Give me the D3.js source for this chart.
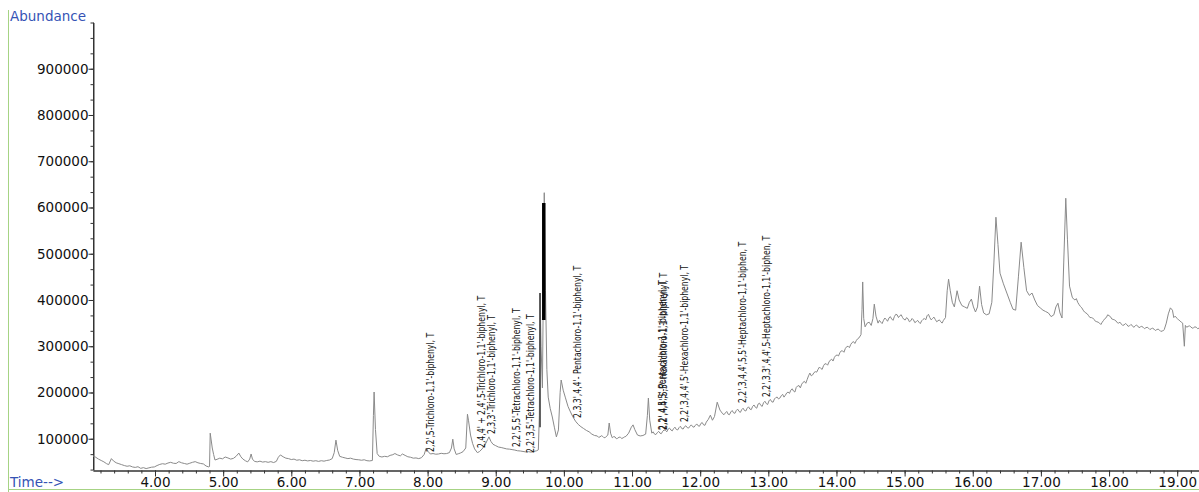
<!DOCTYPE html>
<html>
<head>
<meta charset="utf-8">
<script src="https://cdn.jsdelivr.net/npm/d3@7"></script>
<style>
  html, body { margin: 0; padding: 0; background: #fff; }
  svg { display: block; }
</style>
</head>
<body>
<svg id="chart" width="1199" height="492"></svg>
<script>
// Total ion chromatogram: [retention time (min), abundance]
const ticTrace = [
  [3.09, 63000], [3.13, 60000], [3.17, 56000], [3.21, 53000], [3.25, 50000], [3.29, 46000],
  [3.32, 44000], [3.36, 57000], [3.39, 52000], [3.43, 48000], [3.47, 46000], [3.51, 44000],
  [3.55, 42000], [3.59, 40500], [3.63, 41500], [3.67, 39000], [3.71, 38000], [3.75, 39500],
  [3.79, 36000], [3.83, 37500], [3.87, 35500], [3.91, 37000], [3.95, 38500], [3.99, 39000],
  [4.03, 42000], [4.07, 44500], [4.11, 46000], [4.15, 45000], [4.19, 47500], [4.23, 49000],
  [4.27, 47000], [4.31, 46500], [4.35, 50500], [4.39, 48000], [4.43, 46500], [4.47, 45000],
  [4.51, 47000], [4.55, 49000], [4.59, 50500], [4.63, 48000], [4.67, 46500], [4.71, 45500],
  [4.75, 41000], [4.79, 39000], [4.80, 40000], [4.81, 112000], [4.84, 80000], [4.86, 66000],
  [4.88, 54000], [4.91, 55500], [4.95, 58000], [4.99, 56500], [5.03, 60500], [5.07, 58500],
  [5.11, 56000], [5.15, 57500], [5.19, 62000], [5.23, 69000], [5.26, 61000], [5.29, 56000],
  [5.33, 52000], [5.36, 50000], [5.39, 56000], [5.41, 67000], [5.43, 56000], [5.46, 51000],
  [5.50, 50000], [5.54, 51500], [5.58, 49500], [5.62, 50500], [5.66, 49000], [5.70, 50500],
  [5.74, 48500], [5.78, 51000], [5.81, 60000], [5.84, 65000], [5.88, 61000], [5.92, 58000],
  [5.96, 57000], [6.00, 55000], [6.04, 56000], [6.08, 53500], [6.12, 54500], [6.16, 52500],
  [6.20, 53500], [6.24, 52000], [6.28, 53000], [6.32, 51500], [6.36, 52500], [6.40, 51000],
  [6.44, 52500], [6.48, 51500], [6.52, 53000], [6.56, 54000], [6.60, 57000], [6.63, 70000],
  [6.655, 97000], [6.68, 75000], [6.71, 62000], [6.75, 60000], [6.79, 58500], [6.83, 57000],
  [6.87, 58000], [6.91, 56000], [6.95, 55000], [6.99, 54500], [7.03, 53500], [7.07, 54500],
  [7.11, 52500], [7.15, 52000], [7.19, 53000], [7.205, 150000], [7.215, 201000], [7.235, 120000],
  [7.26, 68000], [7.29, 62000], [7.33, 60500], [7.37, 62000], [7.41, 61000], [7.45, 64000],
  [7.49, 65500], [7.52, 68000], [7.56, 65000], [7.60, 63000], [7.63, 67000], [7.67, 64000],
  [7.71, 61000], [7.75, 60000], [7.79, 58000], [7.83, 58500], [7.87, 57000], [7.91, 59000],
  [7.95, 66000], [7.98, 80000], [8.01, 72000], [8.04, 67000], [8.08, 68000], [8.12, 66500],
  [8.16, 67000], [8.20, 68500], [8.24, 67500], [8.28, 68000], [8.32, 70000], [8.35, 80000],
  [8.37, 99000], [8.39, 78000], [8.42, 66000], [8.45, 67500], [8.48, 69000], [8.52, 72000],
  [8.56, 80000], [8.585, 153000], [8.60, 140000], [8.63, 108000], [8.66, 90000], [8.69, 78000],
  [8.73, 70000], [8.76, 72000], [8.80, 78000], [8.84, 86000], [8.87, 95000], [8.90, 104000],
  [8.93, 94000], [8.96, 88000], [9.00, 85000], [9.04, 82000], [9.08, 81000], [9.12, 79500],
  [9.16, 78000], [9.20, 77500], [9.24, 76500], [9.28, 75500], [9.32, 74000], [9.36, 73500],
  [9.40, 72500], [9.44, 71500], [9.48, 72000], [9.52, 71000], [9.56, 72500], [9.60, 74000],
  [9.625, 76000], [9.64, 150000], [9.65, 415000], [9.665, 300000], [9.685, 210000], [9.70, 450000],
  [9.712, 632000], [9.73, 420000], [9.75, 250000], [9.77, 190000], [9.80, 165000], [9.83, 147000],
  [9.86, 125000], [9.89, 104000], [9.92, 119000], [9.945, 200000], [9.96, 227000], [9.99, 205000],
  [10.02, 190000], [10.06, 170000], [10.09, 160000], [10.13, 148000], [10.17, 138000], [10.21, 131000],
  [10.25, 126000], [10.29, 122000], [10.33, 118000], [10.37, 115000], [10.41, 110000], [10.45, 107000],
  [10.49, 106000], [10.51, 103000], [10.53, 104000], [10.55, 106500], [10.57, 105000], [10.59, 102000],
  [10.61, 103000], [10.645, 108000], [10.665, 134000], [10.685, 112000], [10.71, 102000], [10.73, 104500],
  [10.75, 104000], [10.77, 100000], [10.79, 101000], [10.81, 103500], [10.83, 103000], [10.85, 100500],
  [10.87, 102000], [10.89, 104000], [10.91, 105000], [10.95, 112000], [10.99, 125000], [11.015, 130000],
  [11.04, 120000], [11.08, 108000], [11.12, 106000], [11.16, 107000], [11.20, 110000], [11.225, 150000],
  [11.24, 188000], [11.26, 140000], [11.29, 112000], [11.31, 115000], [11.33, 110000], [11.35, 109000],
  [11.37, 113000], [11.39, 116000], [11.41, 112000], [11.43, 111000], [11.45, 116000], [11.47, 119000],
  [11.49, 118000], [11.51, 115000], [11.53, 121000], [11.55, 123000], [11.57, 119000], [11.59, 117000],
  [11.61, 122000], [11.63, 125000], [11.65, 120000], [11.67, 119000], [11.69, 124000], [11.71, 127000],
  [11.73, 122000], [11.75, 121000], [11.77, 126000], [11.79, 128000], [11.81, 124000], [11.83, 123000],
  [11.85, 127000], [11.87, 130000], [11.89, 126000], [11.91, 125000], [11.93, 129000], [11.95, 132000],
  [11.97, 128000], [11.99, 127000], [12.01, 133000], [12.03, 135000], [12.05, 130000], [12.07, 129000],
  [12.09, 136000], [12.12, 142000], [12.15, 151000], [12.18, 140000], [12.21, 148000], [12.25, 179000],
  [12.29, 162000], [12.31, 158000], [12.33, 154000], [12.35, 152000], [12.37, 156000], [12.39, 159000],
  [12.41, 153000], [12.43, 152000], [12.45, 158000], [12.47, 161000], [12.49, 156000], [12.51, 155000],
  [12.53, 161000], [12.55, 164000], [12.57, 159000], [12.59, 157000], [12.61, 163000], [12.63, 166000],
  [12.65, 161000], [12.67, 160000], [12.69, 166000], [12.71, 169000], [12.73, 164000], [12.75, 163000],
  [12.77, 170000], [12.79, 173000], [12.81, 168000], [12.83, 166000], [12.85, 175000], [12.87, 177000],
  [12.89, 172000], [12.91, 170000], [12.93, 178000], [12.95, 181000], [12.97, 176000], [12.99, 174000],
  [13.01, 182000], [13.03, 185000], [13.05, 180000], [13.07, 179000], [13.09, 186000], [13.11, 189000],
  [13.13, 190000], [13.15, 186000], [13.17, 188000], [13.19, 193000], [13.21, 196000], [13.23, 190000],
  [13.25, 194000], [13.27, 199000], [13.29, 201000], [13.31, 198000], [13.33, 205000], [13.35, 208000],
  [13.37, 203000], [13.39, 201000], [13.41, 211000], [13.43, 214000], [13.45, 215000], [13.47, 210000],
  [13.49, 218000], [13.51, 222000], [13.53, 224000], [13.55, 220000], [13.57, 228000], [13.59, 236000],
  [13.61, 242000], [13.63, 236000], [13.65, 238000], [13.67, 243000], [13.69, 245000], [13.71, 244000],
  [13.73, 250000], [13.75, 255000], [13.77, 252000], [13.79, 250000], [13.81, 258000], [13.83, 262000],
  [13.85, 262000], [13.87, 259000], [13.89, 266000], [13.91, 270000], [13.93, 272000], [13.95, 268000],
  [13.97, 276000], [13.99, 280000], [14.01, 281000], [14.03, 279000], [14.05, 286000], [14.07, 290000],
  [14.09, 290000], [14.11, 287000], [14.13, 295000], [14.15, 299000], [14.17, 300000], [14.19, 297000],
  [14.21, 304000], [14.23, 308000], [14.25, 310000], [14.27, 306000], [14.29, 312000], [14.31, 316000],
  [14.33, 318000], [14.36, 325000], [14.375, 380000], [14.385, 439000], [14.40, 360000], [14.42, 342000],
  [14.45, 350000], [14.48, 352000], [14.51, 345000], [14.535, 360000], [14.555, 391000], [14.58, 365000],
  [14.61, 350000], [14.63, 356000], [14.65, 352000], [14.67, 349000], [14.69, 356000], [14.71, 361000],
  [14.73, 358000], [14.75, 354000], [14.77, 361000], [14.79, 364000], [14.81, 359000], [14.83, 356000],
  [14.85, 364000], [14.87, 369000], [14.89, 368000], [14.91, 362000], [14.93, 366000], [14.95, 368000],
  [14.97, 362000], [14.99, 358000], [15.01, 357000], [15.03, 362000], [15.05, 359000], [15.07, 353000],
  [15.09, 355000], [15.11, 360000], [15.13, 357000], [15.15, 351000], [15.17, 353000], [15.19, 356000],
  [15.21, 352000], [15.23, 349000], [15.25, 355000], [15.27, 358000], [15.29, 360000], [15.31, 357000],
  [15.33, 366000], [15.35, 369000], [15.37, 362000], [15.39, 357000], [15.41, 360000], [15.43, 363000],
  [15.45, 358000], [15.47, 353000], [15.49, 355000], [15.51, 357000], [15.53, 353000], [15.55, 350000],
  [15.57, 356000], [15.60, 362000], [15.625, 420000], [15.645, 445000], [15.67, 420000], [15.70, 395000],
  [15.73, 385000], [15.77, 420000], [15.80, 400000], [15.84, 388000], [15.88, 385000], [15.92, 382000],
  [15.95, 395000], [15.98, 402000], [16.01, 385000], [16.04, 374000], [16.07, 385000], [16.10, 430000],
  [16.13, 390000], [16.16, 372000], [16.20, 368000], [16.24, 370000], [16.28, 395000], [16.31, 480000],
  [16.34, 579000], [16.37, 520000], [16.40, 458000], [16.45, 435000], [16.50, 415000], [16.55, 395000],
  [16.59, 380000], [16.63, 378000], [16.67, 450000], [16.71, 525000], [16.75, 470000], [16.79, 420000],
  [16.83, 410000], [16.87, 415000], [16.91, 400000], [16.95, 388000], [16.99, 383000], [17.03, 378000],
  [17.07, 375000], [17.11, 372000], [17.15, 364000], [17.19, 368000], [17.22, 385000], [17.25, 393000],
  [17.28, 372000], [17.31, 361000], [17.335, 480000], [17.365, 620000], [17.39, 530000], [17.42, 430000],
  [17.46, 406000], [17.48, 402000], [17.50, 400000], [17.52, 403000], [17.54, 395000], [17.56, 390000],
  [17.58, 386000], [17.60, 383000], [17.62, 378000], [17.64, 374000], [17.66, 372000], [17.68, 370000],
  [17.70, 366000], [17.72, 362000], [17.74, 362000], [17.76, 361000], [17.78, 358000], [17.80, 354000],
  [17.82, 353000], [17.84, 352000], [17.86, 350000], [17.88, 347000], [17.90, 352000], [17.92, 356000],
  [17.94, 360000], [17.96, 362000], [17.98, 368000], [18.00, 366000], [18.02, 364000], [18.04, 359000],
  [18.06, 358000], [18.08, 357000], [18.10, 355000], [18.12, 351000], [18.14, 350000], [18.16, 352000],
  [18.18, 348000], [18.20, 345000], [18.22, 346000], [18.24, 349000], [18.26, 347000], [18.28, 343000],
  [18.30, 344000], [18.32, 347000], [18.34, 345000], [18.36, 341000], [18.38, 343000], [18.40, 346000],
  [18.42, 344000], [18.44, 340000], [18.46, 342000], [18.48, 343000], [18.50, 341000], [18.52, 338000],
  [18.54, 340000], [18.56, 341000], [18.58, 339000], [18.60, 336000], [18.62, 338000], [18.64, 339000],
  [18.66, 337000], [18.68, 334000], [18.70, 336000], [18.72, 337000], [18.74, 335000], [18.76, 332000],
  [18.78, 333000], [18.80, 334000], [18.81, 336000], [18.84, 350000], [18.87, 370000], [18.90, 383000],
  [18.93, 378000], [18.95, 362000], [18.97, 365000], [19.00, 360000], [19.02, 357000], [19.04, 355000],
  [19.06, 352000], [19.08, 350000], [19.105, 300000], [19.12, 345000], [19.14, 341000], [19.16, 343000],
  [19.18, 344000], [19.20, 342000], [19.22, 339000], [19.24, 340000], [19.26, 342000], [19.28, 341000],
  [19.30, 338000], [19.32, 339000]
];

// Compound identifications: label start (time, abundance) and name
const peakLabels = [
  { t: 8.095, v: 71400,  name: "2,2',5-Trichloro-1,1'-biphenyl, T" },
  { t: 8.84,  v: 80000,  name: "2,4,4' + 2,4',5-Trichloro-1,1'-biphenyl, T" },
  { t: 8.99,  v: 110000, name: "2,3,3'-Trichloro-1,1'-biphenyl, T" },
  { t: 9.36,  v: 82000,  name: "2,2',5,5'-Tetrachloro-1,1'-biphenyl, T" },
  { t: 9.56,  v: 69000,  name: "2,2',3,5'-Tetrachloro-1,1'-biphenyl, T" },
  { t: 10.25, v: 145000, name: "2,3,3',4,4'- Pentachloro-1,1'-biphenyl, T" },
  { t: 11.50, v: 119000, name: "2,2',4,5,5'-Pentachloro-1,1'-biphenyl, T" },
  { t: 11.515, v: 119000, name: "2,2',4,4',5,5'-Hexachloro-1,1'-biphenyl, T" },
  { t: 11.82, v: 136000, name: "2,2',3,4,4',5'-Hexachloro-1,1'-biphenyl, T" },
  { t: 12.67, v: 177000, name: "2,2',3,4,4',5,5'-Heptachloro-1,1'-biphen, T" },
  { t: 13.03, v: 190000, name: "2,2',3,3',4,4',5-Heptachloro-1,1'-biphen, T" }
];

// Integration markers drawn over the main peak cluster
const peakMarkers = [
  { t: 9.65,  lo: 125000, hi: 415000, width: 1.6, color: "#444" },
  { t: 9.705, lo: 356700, hi: 609700, width: 3.5, color: "#000" }
];

const yTickValues = [100000, 200000, 300000, 400000, 500000, 600000, 700000, 800000, 900000];
const xTickValues = [4, 5, 6, 7, 8, 9, 10, 11, 12, 13, 14, 15, 16, 17, 18, 19];
const xTickLabels = ["4.00", "5.00", "6.00", "7.00", "8.00", "9.00", "10.00", "11.00",
                     "12.00", "13.00", "14.00", "15.00", "16.00", "17.00", "18.00", "19.00"];

const svg = d3.select("#chart");
const W = 1199, H = 492;
const plotLeft = 93, plotRight = 1199, plotTop = 22.5, plotBottom = 470;

svg.append("rect").attr("width", W).attr("height", H).attr("fill", "#fff");

const x = d3.scaleLinear().domain([3.09, 19.32]).range([plotLeft, plotRight]);
const y = d3.scaleLinear().domain([32400, 1000000]).range([plotBottom, plotTop]);

// Frame lines
const frame = "#a6d384";
svg.append("line").attr("x1", 8.5).attr("x2", 8.5).attr("y1", 10).attr("y2", H)
  .attr("stroke", frame).attr("stroke-width", 1);
svg.append("line").attr("x1", 8).attr("x2", W).attr("y1", 489.5).attr("y2", 489.5)
  .attr("stroke", frame).attr("stroke-width", 1);

const axisFont = "'DejaVu Sans', Verdana, sans-serif";

// Y axis: labelled majors and three sub-divisions
const yMinor = d3.range(0, 1000001, 100000 / 3).filter(v => v >= 32400);
svg.append("g").attr("transform", `translate(${plotLeft + 0.5},0)`)
  .call(d3.axisLeft(y).tickValues(yMinor).tickSize(3).tickSizeOuter(0).tickFormat(""))
  .call(g => g.selectAll("line,path").attr("stroke", "#333"));
const gy = svg.append("g").attr("transform", `translate(${plotLeft + 0.5},0)`)
  .call(d3.axisLeft(y).tickValues(yTickValues).tickSize(5).tickPadding(0).tickSizeOuter(0)
    .tickFormat(d => String(d)));
gy.selectAll("line,path").attr("stroke", "#333");
gy.selectAll("text").attr("font-family", axisFont).attr("font-size", 13.5).attr("fill", "#111");
gy.select(".domain").attr("d", `M0,${plotTop}V${plotBottom}`);

// X axis: majors every minute, minors every 0.2 min
const xMinor = d3.range(3.2, 19.31, 0.2);
svg.append("g").attr("transform", `translate(0,${plotBottom + 0.5})`)
  .call(d3.axisBottom(x).tickValues(xMinor).tickSize(3).tickSizeOuter(0).tickFormat(""))
  .call(g => g.selectAll("line,path").attr("stroke", "#333"));
const gx = svg.append("g").attr("transform", `translate(0,${plotBottom + 0.5})`)
  .call(d3.axisBottom(x).tickValues(xTickValues).tickSize(6).tickPadding(1).tickSizeOuter(0)
    .tickFormat((d, i) => xTickLabels[i]));
gx.selectAll("line,path").attr("stroke", "#333");
gx.selectAll("text").attr("font-family", axisFont).attr("font-size", 13.5).attr("fill", "#111");

// Chromatogram trace
const traceLine = d3.line().x(d => x(d[0])).y(d => y(d[1]));
svg.append("path").datum(ticTrace)
  .attr("d", traceLine)
  .attr("fill", "none")
  .attr("stroke", "#8a8a8a")
  .attr("stroke-width", 1)
  .attr("stroke-linejoin", "round");

// Integration markers
svg.append("g").selectAll("line").data(peakMarkers).join("line")
  .attr("x1", d => x(d.t)).attr("x2", d => x(d.t))
  .attr("y1", d => y(d.lo)).attr("y2", d => y(d.hi))
  .attr("stroke", d => d.color).attr("stroke-width", d => d.width);

// Compound labels, written upward from each peak in a condensed face
svg.append("g").selectAll("text").data(peakLabels).join("text")
  .attr("transform", d => `translate(${x(d.t)},${y(d.v)}) rotate(-90) scale(0.78,1)`)
  .attr("font-family", "'Liberation Sans Narrow', 'Arial Narrow', 'DejaVu Sans Condensed', sans-serif")
  .attr("font-size", 11)
  .attr("fill", "#111")
  .text(d => d.name);

// Axis titles
svg.append("text").attr("x", 10).attr("y", 20.5)
  .attr("font-family", axisFont).attr("font-size", 13.5).attr("fill", "#3553b5")
  .text("Abundance");
svg.append("text").attr("x", 10).attr("y", 487)
  .attr("font-family", axisFont).attr("font-size", 13.5).attr("fill", "#3553b5")
  .text("Time-->");
</script>
</body>
</html>
